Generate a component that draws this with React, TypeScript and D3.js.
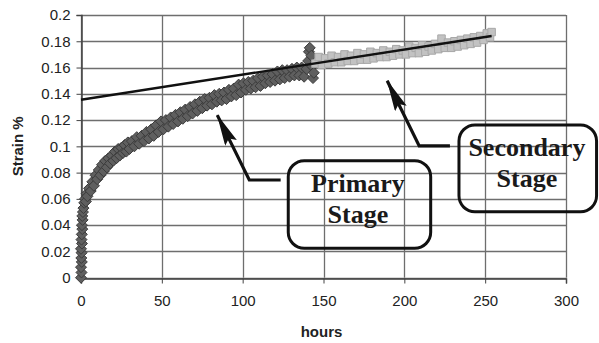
import * as d3 from 'd3';
import { useEffect, useRef } from 'react';

// primary stage readings: [hours, strain %]
const primaryHours = [
  0, 0.3, 0, 0.5, 0.2, 0.4, 0, 0.6, 0.3, 0.5, 0.8, 0.6, 1.0, 0.8, 1.2,
  1.5, 2, 2.5, 3, 3.5, 4, 5, 6, 7, 8, 9, 10, 11, 12, 13, 14, 15, 16, 17, 18, 19, 20,
  21, 22, 23, 24, 25, 26, 27, 28, 29, 30, 31.5, 33, 34.5, 36, 37.5, 39, 40.5, 42,
  43.5, 45, 46.5, 48, 49.5, 51, 52.5, 54, 55.5, 57, 58.5, 60, 61.5, 63, 64.5, 66,
  67.5, 69, 70.5, 72, 73.5, 75, 76.5, 78, 79.5, 81, 82.5, 84, 85.5, 87, 88.5, 90,
  91.5, 93, 94.5, 96, 97.5, 99, 100.5, 102, 103.5, 105, 106.5, 108, 109.5, 111,
  112.5, 114, 115.5, 117, 118.5, 120, 121.5, 123, 124.5, 126, 127.5, 129, 130.5,
  132, 133.5, 135, 136.5, 138, 139.5, 140.5, 141, 141.5, 142.5, 143, 143.5, 144,
];
const primaryStrain = [
  0, 0.004, 0.008, 0.012, 0.015, 0.019, 0.022, 0.026, 0.029, 0.033, 0.037, 0.04, 0.044, 0.047, 0.05,
  0.053, 0.057, 0.06, 0.058, 0.064, 0.062, 0.068, 0.066, 0.073, 0.07, 0.078, 0.075, 0.082, 0.078,
  0.086, 0.081, 0.089, 0.084, 0.091, 0.087, 0.093, 0.089, 0.096, 0.091, 0.098, 0.093, 0.099, 0.095,
  0.101, 0.096, 0.103, 0.098, 0.104, 0.1, 0.107, 0.102, 0.108, 0.104, 0.111, 0.106, 0.113, 0.108,
  0.116, 0.111, 0.119, 0.113, 0.12, 0.115, 0.122, 0.117, 0.124, 0.119, 0.126, 0.121, 0.128, 0.123,
  0.13, 0.125, 0.132, 0.127, 0.134, 0.129, 0.136, 0.131, 0.137, 0.132, 0.139, 0.134, 0.14, 0.135,
  0.141, 0.136, 0.143, 0.138, 0.144, 0.139, 0.147, 0.141, 0.148, 0.143, 0.149, 0.144, 0.15, 0.145,
  0.152, 0.146, 0.153, 0.148, 0.154, 0.149, 0.155, 0.15, 0.157, 0.151, 0.158, 0.152, 0.158, 0.153,
  0.159, 0.154, 0.16, 0.154, 0.16, 0.153, 0.159, 0.165, 0.172, 0.175, 0.169, 0.161, 0.152, 0.156,
];

// secondary stage readings
const secondaryHours = [
  145, 147, 149, 151, 153, 155, 157, 159, 161, 163, 165, 167, 169, 171, 173, 175, 177, 179,
  181, 183, 185, 187, 189, 191, 193, 195, 197, 199, 201, 203, 205, 207, 209, 211, 213, 215,
  217, 219, 221, 223, 225, 227, 229, 231, 233, 235, 237, 239, 241, 243, 245, 247, 249, 251,
  253, 254,
];
const secondaryStrain = [
  0.163, 0.168, 0.162, 0.167, 0.163, 0.169, 0.164, 0.168, 0.164, 0.17, 0.165, 0.169, 0.165,
  0.171, 0.166, 0.17, 0.166, 0.172, 0.167, 0.171, 0.168, 0.173, 0.168, 0.172, 0.169, 0.174,
  0.17, 0.173, 0.17, 0.176, 0.171, 0.175, 0.171, 0.177, 0.172, 0.176, 0.173, 0.178, 0.174,
  0.182, 0.175, 0.179, 0.175, 0.18, 0.176, 0.181, 0.177, 0.182, 0.178, 0.183, 0.179, 0.184,
  0.181, 0.186, 0.183, 0.187,
];

// linear fit drawn across the curve: [hours, strain]
const trendHours = [0, 254];
const trendStrain = [0.1355, 0.184];

const xTicks = [0, 50, 100, 150, 200, 250, 300];
const yTicks = [0, 0.02, 0.04, 0.06, 0.08, 0.1, 0.12, 0.14, 0.16, 0.18, 0.2];

// callouts in data units
const callouts = [
  {
    lines: ['Primary', 'Stage'],
    box: [128.2, 0.0891, 216.3, 0.0224],
    textX: 171.3,
    baselines: [0.0655, 0.0419],
    arrow: [[123.5, 0.0744], [104.1, 0.0744], [84.3, 0.1238]],
  },
  {
    lines: ['Secondary', 'Stage'],
    box: [233.8, 0.1163, 318.9, 0.0502],
    textX: 275.8,
    baselines: [0.0927, 0.0693],
    arrow: [[228.2, 0.1003], [209.2, 0.1003], [189.4, 0.15]],
  },
];

const W = 599;
const H = 343;

export default function App() {
  const svgRef = useRef<SVGSVGElement>(null);

  useEffect(() => {
    if (!svgRef.current) return;
    const svg = d3.select(svgRef.current);
    svg.selectAll('*').remove();

    const x = d3.scaleLinear().domain([0, 300]).range([81, 566]);
    const y = d3.scaleLinear().domain([0, 0.2]).range([277.7, 15]);
    const grid = '#6e6e6e';
    const sans = 'Liberation Sans, Arial, sans-serif';
    const serif = 'Liberation Serif, Times New Roman, serif';

    const defs = svg.append('defs');
    defs.append('filter').attr('id', 'soft').append('feGaussianBlur').attr('stdDeviation', 0.6);

    // grid
    const g = svg.append('g');
    g.selectAll('line.hg')
      .data(yTicks)
      .enter()
      .append('line')
      .attr('x1', x(0))
      .attr('x2', x(300))
      .attr('y1', (d) => Math.round(y(d)) + 0.5)
      .attr('y2', (d) => Math.round(y(d)) + 0.5)
      .attr('stroke', grid)
      .attr('stroke-width', 1.3);
    g.selectAll('line.vg')
      .data(xTicks)
      .enter()
      .append('line')
      .attr('x1', (d) => Math.round(x(d)) + 0.5)
      .attr('x2', (d) => Math.round(x(d)) + 0.5)
      .attr('y1', y(0.2))
      .attr('y2', y(0))
      .attr('stroke', grid)
      .attr('stroke-width', 1.3);

    // axes
    const xAxis = svg
      .append('g')
      .attr('transform', `translate(0,${Math.round(y(0)) + 0.5})`)
      .call(d3.axisBottom(x).tickValues(xTicks).tickSize(5).tickPadding(12).tickFormat(d3.format('d')));
    const yAxis = svg
      .append('g')
      .attr('transform', `translate(${Math.round(x(0)) + 0.5},0)`)
      .call(d3.axisLeft(y).tickValues(yTicks).tickSize(5).tickPadding(6).tickFormat((d) => String(+d)));
    [xAxis, yAxis].forEach((a) => {
      a.selectAll('path').attr('stroke', '#444').attr('stroke-width', 1.5);
      a.selectAll('line').attr('stroke', '#444');
      a.selectAll('text')
        .attr('fill', '#222')
        .style('font-family', sans)
        .style('font-size', '15px');
    });

    // primary markers (diamonds)
    const diamond = 'M0,-5.5L5.5,0L0,5.5L-5.5,0Z';
    svg
      .append('g')
      .attr('filter', 'url(#soft)')
      .selectAll('path')
      .data(primaryHours.map((h, i) => [h, primaryStrain[i]]))
      .enter()
      .append('path')
      .attr('d', diamond)
      .attr('transform', (d) => `translate(${x(d[0])},${y(d[1])})`)
      .attr('fill', '#5e5e5e')
      .attr('stroke', '#3c3c3c')
      .attr('stroke-width', 1);

    // secondary markers (squares)
    const square = d3.symbol().type(d3.symbolSquare).size(56);
    svg
      .append('g')
      .attr('filter', 'url(#soft)')
      .selectAll('path')
      .data(secondaryHours.map((h, i) => [h, secondaryStrain[i]]))
      .enter()
      .append('path')
      .attr('d', square)
      .attr('transform', (d) => `translate(${x(d[0])},${y(d[1])})`)
      .attr('fill', '#c2c2c2')
      .attr('stroke', '#a8a8a8')
      .attr('stroke-width', 1);

    // trend line
    svg
      .append('path')
      .attr(
        'd',
        d3.line<number>()
          .x((h) => x(h))
          .y((_, i) => y(trendStrain[i]))(trendHours)
      )
      .attr('stroke', '#111')
      .attr('stroke-width', 2.4)
      .attr('fill', 'none');

    // callouts
    defs
      .append('marker')
      .attr('id', 'head')
      .attr('viewBox', '0 0 32 13')
      .attr('refX', 31)
      .attr('refY', 6.5)
      .attr('markerWidth', 32)
      .attr('markerHeight', 13)
      .attr('markerUnits', 'userSpaceOnUse')
      .attr('orient', 'auto')
      .append('path')
      .attr('d', 'M0,0 L32,6.5 L0,13 L5,6.5 Z')
      .attr('fill', '#111');

    callouts.forEach((c) => {
      const [x0, y0, x1, y1] = c.box;
      svg
        .append('rect')
        .attr('x', x(x0))
        .attr('y', y(y0))
        .attr('width', x(x1) - x(x0))
        .attr('height', y(y1) - y(y0))
        .attr('rx', 16)
        .attr('fill', 'none')
        .attr('stroke', '#111')
        .attr('stroke-width', 3);
      c.lines.forEach((t, i) => {
        svg
          .append('text')
          .attr('x', x(c.textX))
          .attr('y', y(c.baselines[i]))
          .attr('text-anchor', 'middle')
          .attr('fill', '#1a1a1a')
          .style('font-family', serif)
          .style('font-weight', 'bold')
          .style('font-size', '26px')
          .text(t);
      });
      svg
        .append('path')
        .attr('d', d3.line().x((p) => x(p[0])).y((p) => y(p[1]))(c.arrow as [number, number][]))
        .attr('stroke', '#111')
        .attr('stroke-width', 3.2)
        .attr('fill', 'none')
        .attr('marker-end', 'url(#head)');
    });

    // axis titles
    svg
      .append('text')
      .attr('x', (x(0) + x(300)) / 2 - 2)
      .attr('y', 337)
      .attr('text-anchor', 'middle')
      .attr('fill', '#222')
      .style('font-family', sans)
      .style('font-weight', 'bold')
      .style('font-size', '15px')
      .text('hours');
    svg
      .append('text')
      .attr('transform', `translate(23,${(y(0) + y(0.2)) / 2}) rotate(-90)`)
      .attr('text-anchor', 'middle')
      .attr('fill', '#222')
      .style('font-family', sans)
      .style('font-weight', 'bold')
      .style('font-size', '15px')
      .text('Strain %');
  }, []);

  return (
    <svg
      ref={svgRef}
      width={W}
      height={H}
      style={{ position: 'absolute', left: 0, top: 0, background: '#fff' }}
    />
  );
}
